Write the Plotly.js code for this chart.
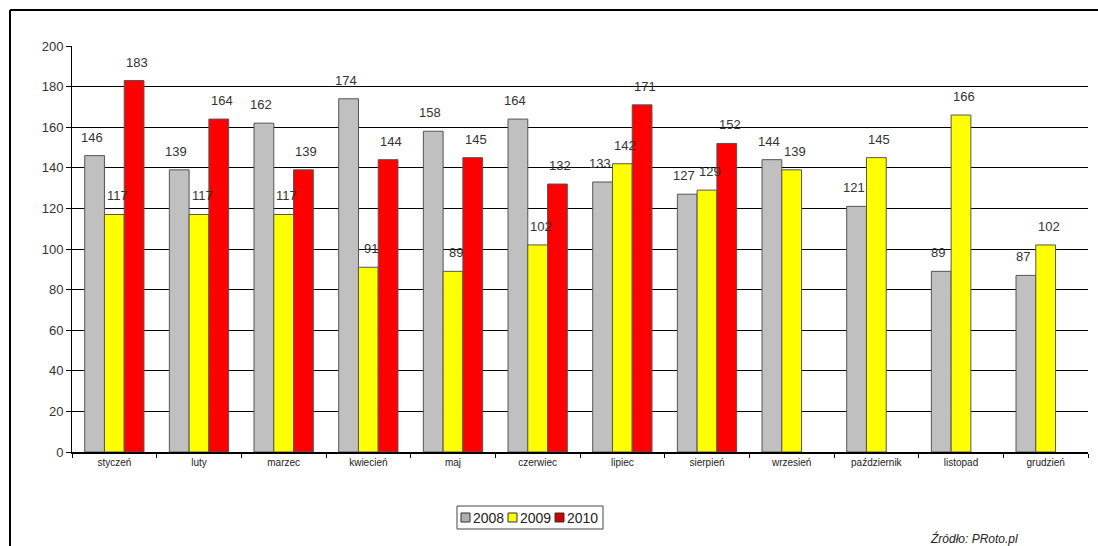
<!DOCTYPE html>
<html>
<head>
<meta charset="utf-8">
<script src="https://cdn.plot.ly/plotly-3.0.1.min.js"></script>
<style>html,body{margin:0;padding:0;background:#fff;}#chart{width:1098px;height:546px;}</style>
</head>
<body>
<div id="chart"></div>
<script>
const months = ["styczeń","luty","marzec","kwiecień","maj","czerwiec","lipiec","sierpień","wrzesień","październik","listopad","grudzień"];
const years = ["2008","2009","2010"];
const v2008 = [146,139,162,174,158,164,133,127,144,121,89,87];
const v2009 = [117,117,117,91,89,102,142,129,139,145,166,102];
const v2010 = [183,164,139,144,145,132,171,152,null,null,null,null];
const yTicks = [0,20,40,60,80,100,120,140,160,180,200];
const source = "Źródło: PRoto.pl";

const colors = ["#C0C0C0","#FFFF00","#FF0000"];
const legendColors = ["#B0B0B0","#FFFF00","#D00000"];
const series = [v2008, v2009, v2010];

const W = 1098, H = 546;
const M = {l:72, r:10, t:46, b:94};
const pw = W - M.l - M.r, ph = H - M.t - M.b;
const px = x => (x - M.l) / pw;
const py = y => (H - M.b - y) / ph;

const catPx = pw / months.length;
const bargap = 0.3;
const barPx = catPx * (1 - bargap) / 3;
const labelNudge = [-3, 3, 3];

const traces = series.map((vals, i) => ({
  type: 'bar',
  name: years[i],
  x: months,
  y: vals,
  marker: {color: colors[i], line: {color: '#555', width: 1}},
  showlegend: false,
  hoverinfo: 'x+y+name'
}));

const annotations = [];
series.forEach((vals, i) => {
  vals.forEach((v, j) => {
    if (v === null) return;
    annotations.push({
      x: months[j], y: v, xref: 'x', yref: 'y',
      text: String(v), showarrow: false,
      xanchor: 'center', yanchor: 'bottom',
      xshift: (i - 1) * barPx + labelNudge[i], yshift: 9,
      font: {family: 'Arial, Liberation Sans, sans-serif', size: 13, color: '#333'}
    });
  });
});

// legend (manual, Excel style)
const shapes = [];
const legX0 = 457, legY0 = 506, legX1 = 603, legY1 = 529;
shapes.push({type:'rect', xref:'paper', yref:'paper', x0:px(legX0), x1:px(legX1), y0:py(legY1), y1:py(legY0), line:{color:'#444', width:1}, fillcolor:'#fff'});
const itemX = [461, 508, 555];
years.forEach((yr, i) => {
  shapes.push({type:'rect', xref:'paper', yref:'paper', x0:px(itemX[i]), x1:px(itemX[i]+9), y0:py(522), y1:py(513), line:{color:'#333', width:1}, fillcolor:legendColors[i]});
  annotations.push({xref:'paper', yref:'paper', x:px(itemX[i]+10), y:py(517.5), text:yr, showarrow:false, xanchor:'left', yanchor:'middle', font:{family:'Arial, Liberation Sans, sans-serif', size:14, color:'#222'}});
});
// source
annotations.push({xref:'paper', yref:'paper', x:px(1020), y:py(538), text:'<i>'+source+'</i>', showarrow:false, xanchor:'right', yanchor:'middle', font:{family:'Arial, Liberation Sans, sans-serif', size:12, color:'#222'}});
// frame lines
shapes.push({type:'line', xref:'paper', yref:'paper', x0:px(10), x1:px(W), y0:py(10), y1:py(10), line:{color:'#000', width:2}});
shapes.push({type:'line', xref:'paper', yref:'paper', x0:px(10), x1:px(10), y0:py(10), y1:py(H), line:{color:'#000', width:2}});

const layout = {
  width: W, height: H,
  margin: M,
  paper_bgcolor: '#fff', plot_bgcolor: '#fff',
  barmode: 'group', bargap: bargap, bargroupgap: 0,
  showlegend: false,
  font: {family: 'Arial, Liberation Sans, sans-serif', color: '#333'},
  xaxis: {
    type: 'category', tickson: 'boundaries', ticks: 'outside', ticklen: 4, tickcolor: '#000',
    showline: true, linecolor: '#000', linewidth: 1.5, showgrid: false,
    tickfont: {size: 10, color: '#222'}, range: [-0.5, 11.5]
  },
  yaxis: {
    range: [0, 200], tickvals: yTicks, ticks: 'outside', ticklen: 5, tickcolor: '#000',
    showline: true, linecolor: '#000', linewidth: 1, showgrid: true, gridcolor: '#000', gridwidth: 1,
    zeroline: false, tickfont: {size: 13, color: '#333'}
  },
  annotations: annotations,
  shapes: shapes
};

Plotly.newPlot('chart', traces, layout, {staticPlot: true, displayModeBar: false});
</script>
</body>
</html>
